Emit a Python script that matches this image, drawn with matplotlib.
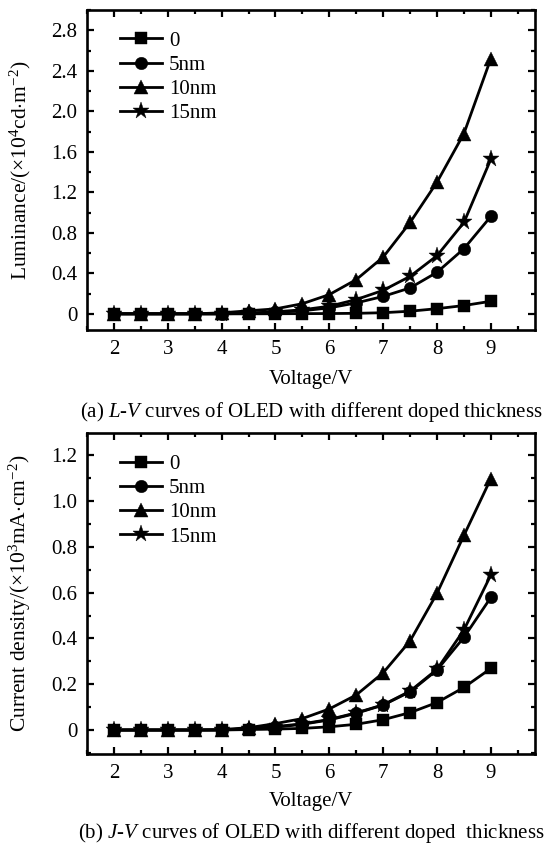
import numpy as np
import matplotlib
matplotlib.use('Agg')
import matplotlib.pyplot as plt
from matplotlib.ticker import MultipleLocator, FuncFormatter

plt.rcParams['font.family'] = ['Liberation Serif', 'DejaVu Serif']
plt.rcParams['mathtext.fontset'] = 'custom'
plt.rcParams['mathtext.rm'] = 'Liberation Serif'
plt.rcParams['mathtext.it'] = 'Liberation Serif:italic'

# --- data ---
voltage = [2, 2.5, 3, 3.5, 4, 4.5, 5, 5.5, 6, 6.5, 7, 7.5, 8, 8.5, 9]
labels = ['0', '5nm', '10nm', '15nm']

# Luminance (x10^4 cd/m^2)
lum_0 = [0, 0, 0, 0, 0, 0, 0.001, 0.002, 0.003, 0.005, 0.011, 0.026, 0.051, 0.082, 0.124]
lum_5 = [0, 0, 0, 0, 0, 0.005, 0.015, 0.03, 0.059, 0.108, 0.172, 0.256, 0.41, 0.643, 0.962]
lum_10 = [0, 0, 0, 0, 0.01, 0.03, 0.049, 0.1, 0.19, 0.338, 0.56, 0.902, 1.30, 1.78, 2.52]
lum_15 = [0, 0, 0, 0, 0, 0.008, 0.02, 0.04, 0.075, 0.141, 0.232, 0.37, 0.574, 0.902, 1.527]

# Current density (x10^3 mA/cm^2)
cd_0 = [0, 0, 0, 0, 0, 0.002, 0.004, 0.007, 0.014, 0.025, 0.045, 0.076, 0.12, 0.186, 0.269]
cd_5 = [0, 0, 0, 0, 0, 0.005, 0.012, 0.025, 0.044, 0.073, 0.109, 0.167, 0.262, 0.405, 0.579]
cd_10 = [0, 0, 0, 0, 0.002, 0.01, 0.028, 0.05, 0.092, 0.153, 0.25, 0.389, 0.597, 0.85, 1.098]
cd_15 = [0, 0, 0, 0, 0, 0.006, 0.015, 0.027, 0.046, 0.075, 0.11, 0.17, 0.265, 0.437, 0.677]

markers = ['s', 'o', '^', '*']
msizes = [8, 9, 10.5, 12.5]
FS = 15

fig = plt.figure(figsize=(5.52, 8.48), dpi=100, facecolor='white')
ax1 = fig.add_axes([0.1576, 0.6108, 0.8116, 0.3774])
ax2 = fig.add_axes([0.1576, 0.1108, 0.8116, 0.3782])


def zero_fmt(v, pos):
    return '0' if abs(v) < 1e-9 else f'{v:.1f}'


def style(ax, series, ylim, ystep, ylabel):
    for s, lab, m, ms in zip(series, labels, markers, msizes):
        ax.plot(voltage, s, color='black', lw=2.0, marker=m, ms=ms,
                mfc='black', mec='black', mew=0.3, label=lab)
    ax.set_xlim(1.5, 9.82)
    ax.set_ylim(*ylim)
    ax.xaxis.set_major_locator(MultipleLocator(1))
    ax.xaxis.set_minor_locator(MultipleLocator(0.5))
    ax.yaxis.set_major_locator(MultipleLocator(ystep))
    ax.yaxis.set_minor_locator(MultipleLocator(ystep / 2))
    ax.yaxis.set_major_formatter(FuncFormatter(zero_fmt))
    ax.xaxis.set_major_formatter(FuncFormatter(lambda v, p: f'{v:.0f}'))
    ax.tick_params(which='both', direction='in', top=True, right=True,
                   width=1.6, labelsize=FS, labelright=False, labeltop=False)
    ax.tick_params(which='major', length=5, pad=7)
    ax.tick_params(which='minor', length=3)
    for sp in ax.spines.values():
        sp.set_linewidth(1.9)
    ax.set_ylabel(ylabel, fontsize=FS + 0.5)
    ax.yaxis.set_label_coords(-0.12, 0.5)
    ax.legend(loc='upper left', frameon=False, fontsize=FS, handlelength=2.0,
              handletextpad=0.35, labelspacing=0.22, borderaxespad=0.0,
              bbox_to_anchor=(0.055, 0.96))


style(ax1, [lum_0, lum_5, lum_10, lum_15], (-0.16, 3.0), 0.4,
      r'Luminance/($\times$10$^4$cd$\cdot$m$^{-2}$)')
style(ax2, [cd_0, cd_5, cd_10, cd_15], (-0.105, 1.296), 0.2,
      r'Current density/($\times$10$^3$mA$\cdot$cm$^{-2}$)')

fig.text(0.5637, 0.5527, 'Voltage/V', fontsize=FS, ha='center', va='center')
fig.text(0.5637, 0.5145, r'(a) $L$-$V$ curves of OLED with different doped thickness',
         fontsize=FS, ha='center', va='center')
fig.text(0.5637, 0.0546, 'Voltage/V', fontsize=FS, ha='center', va='center')
fig.text(0.5637, 0.018, r'(b) $J$-$V$ curves of OLED with different doped  thickness',
         fontsize=FS, ha='center', va='center')

fig.savefig('out.png', dpi=100, facecolor='white')
